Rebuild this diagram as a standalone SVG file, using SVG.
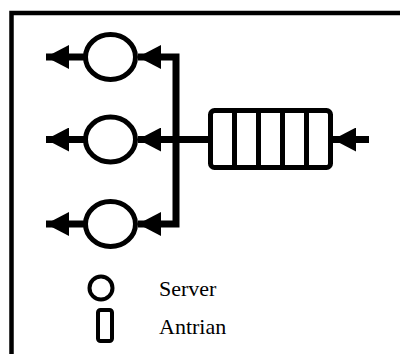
<svg xmlns="http://www.w3.org/2000/svg" width="400" height="354" viewBox="0 0 400 354">
<style>
.ln{fill:none;stroke:#000;stroke-width:7;stroke-linejoin:miter}
.srv{fill:#fff;stroke:#000;stroke-width:5}
.q{fill:#fff;stroke:#000;stroke-width:5}
.lbl{font-family:"Liberation Serif","Times New Roman",serif;font-size:22px;fill:#000}
</style>
<defs>
<marker id="ah" markerUnits="userSpaceOnUse" markerWidth="24" markerHeight="24" refX="23" refY="12" orient="auto">
<path d="M0,0 L23,12 L0,24 z" fill="#000"/>
</marker>
</defs>
<rect x="11.5" y="13" width="500" height="500" fill="none" stroke="#000" stroke-width="4.5"/>
<g id="connectors">
<path class="ln" d="M369,139.5 H333" marker-end="url(#ah)"/>
<path class="ln" d="M208,139.5 H138" marker-end="url(#ah)"/>
<path class="ln" d="M176,140 V57 H138" marker-end="url(#ah)"/>
<path class="ln" d="M176,139 V224 H138" marker-end="url(#ah)"/>
<path class="ln" d="M84,57 H46" marker-end="url(#ah)"/>
<path class="ln" d="M84,139.5 H46" marker-end="url(#ah)"/>
<path class="ln" d="M84,224 H46" marker-end="url(#ah)"/>
</g>
<g id="queue">
<rect class="q" x="210.5" y="110.5" width="120" height="57" rx="4"/>
<line class="q" x1="234.5" y1="110.5" x2="234.5" y2="167.5"/>
<line class="q" x1="258.5" y1="110.5" x2="258.5" y2="167.5"/>
<line class="q" x1="282.5" y1="110.5" x2="282.5" y2="167.5"/>
<line class="q" x1="306.5" y1="110.5" x2="306.5" y2="167.5"/>
</g>
<g id="server1"><ellipse class="srv" cx="110.5" cy="57" rx="25" ry="22.5"/></g>
<g id="server2"><ellipse class="srv" cx="110.5" cy="139.5" rx="25" ry="22.5"/></g>
<g id="server3"><ellipse class="srv" cx="110.5" cy="224" rx="25" ry="22.5"/></g>
<g id="legend">
<circle cx="101" cy="288" r="11.5" fill="#fff" stroke="#000" stroke-width="4"/>
<rect x="98" y="310" width="14" height="31" rx="2.5" fill="#fff" stroke="#000" stroke-width="4"/>
<text class="lbl" x="159" y="296">Server</text>
<text class="lbl" x="159" y="334">Antrian</text>
</g>
</svg>
